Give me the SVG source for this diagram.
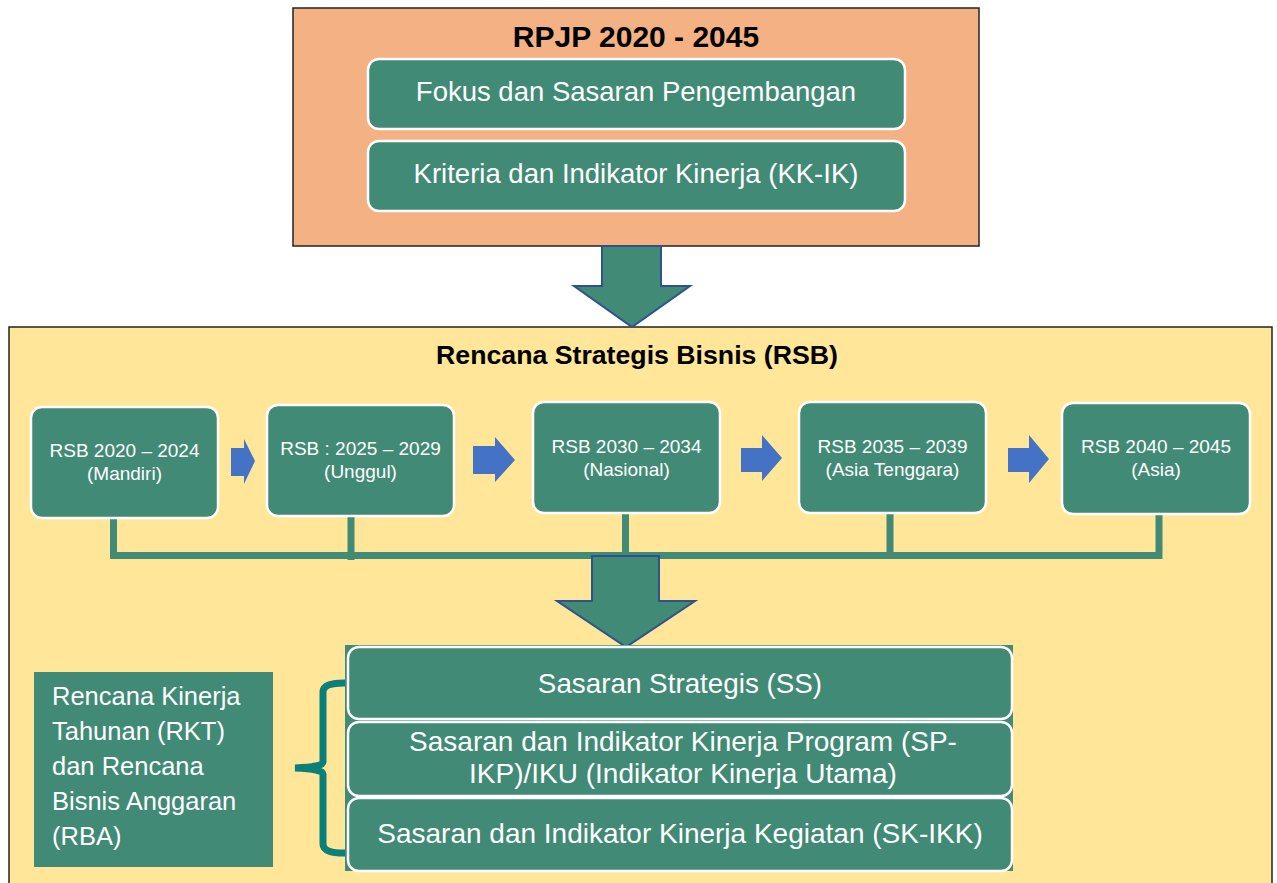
<svg xmlns="http://www.w3.org/2000/svg" width="1277" height="883" viewBox="0 0 1277 883">
<style>
.t{font-family:"Liberation Sans",Arial,sans-serif;fill:#fff;text-anchor:middle}
.b{font-family:"Liberation Sans",Arial,sans-serif;font-weight:bold;fill:#000;text-anchor:middle}
.box{fill:#418A76;stroke:#fff;stroke-width:2.5}
.big{fill:#418A76;stroke:#2F528F;stroke-width:2}
.blue{fill:#4472C4}
.ln{stroke:#418A76;stroke-width:7;fill:none}
</style>
<rect width="1277" height="883" fill="#fff"/>
<g id="rpjp">
<rect x="293" y="8" width="686" height="238" fill="#F4B183" stroke="#222" stroke-width="1.5"/>
<text class="b" x="636" y="47" font-size="30">RPJP 2020 - 2045</text>
</g>
<g id="fokus">
<rect class="box" x="368" y="59" width="537" height="70" rx="11"/>
<text class="t" x="636" y="101" font-size="27.5">Fokus dan Sasaran Pengembangan</text>
</g>
<g id="kriteria">
<rect class="box" x="368" y="141" width="537" height="70" rx="11"/>
<text class="t" x="636" y="183" font-size="27.5">Kriteria dan Indikator Kinerja (KK-IK)</text>
</g>
<g id="rsb">
<rect x="9" y="327" width="1263" height="570" fill="#FFE699" stroke="#222" stroke-width="1.5"/>
<text class="b" x="637" y="364" font-size="26.7">Rencana Strategis Bisnis (RSB)</text>
</g>
<g id="connectors">
<polygon class="big" points="602,246 661,246 661,286 690,286 632,327 574,286 602,286"/>
<path class="ln" d="M113.5,518 V559 M351,516 V560 M625.5,513 V559 M890,513 V559 M1159,514 V559 M110,555.5 H1162.5"/>
<polygon class="blue" points="231,448 244,448 244,439 255,461 244,484 244,476 231,476"/>
<polygon class="blue" points="473,446 495,446 495,437 515,460 495,482 495,474 473,474"/>
<polygon class="blue" points="741,448 762,448 762,435 782,458 762,481 762,472 741,472"/>
<polygon class="blue" points="1008,448 1029,448 1029,435 1049,459 1029,483 1029,472 1008,472"/>
<polygon class="big" points="592,556 659,556 659,601 695,601 626,647 557,601 592,601"/>
<path d="M348,683 Q323,682 323,692 V762 Q323,767 295,768 Q323,769 323,774 V844 Q323,854 348,853" fill="none" stroke="#0B7F7A" stroke-width="7"/>
</g>
<g id="rsb1">
<rect class="box" x="31" y="407" width="187" height="111" rx="11"/>
<text class="t" x="124.5" y="457" font-size="19">RSB 2020 – 2024</text>
<text class="t" x="124.5" y="480" font-size="19">(Mandiri)</text>
</g>
<g id="rsb2">
<rect class="box" x="267" y="405" width="187" height="111" rx="11"/>
<text class="t" x="360.5" y="455" font-size="19">RSB : 2025 – 2029</text>
<text class="t" x="360.5" y="478" font-size="19">(Unggul)</text>
</g>
<g id="rsb3">
<rect class="box" x="533" y="402" width="187" height="111" rx="11"/>
<text class="t" x="626.5" y="453" font-size="19">RSB 2030 – 2034</text>
<text class="t" x="626.5" y="476" font-size="19">(Nasional)</text>
</g>
<g id="rsb4">
<rect class="box" x="799" y="402" width="187" height="111" rx="11"/>
<text class="t" x="892.5" y="453" font-size="19">RSB 2035 – 2039</text>
<text class="t" x="892.5" y="476" font-size="19">(Asia Tenggara)</text>
</g>
<g id="rsb5">
<rect class="box" x="1062" y="403" width="188" height="111" rx="11"/>
<text class="t" x="1156" y="453" font-size="19">RSB 2040 – 2045</text>
<text class="t" x="1156" y="476" font-size="19">(Asia)</text>
</g>
<g id="bottom-bg">
<rect x="345" y="645" width="668" height="226" fill="#418A76"/>
</g>
<g id="ss">
<rect class="box" x="348" y="647" width="664" height="72" rx="11"/>
<text class="t" x="680" y="693" font-size="27.8">Sasaran Strategis (SS)</text>
</g>
<g id="sp">
<rect class="box" x="348" y="722" width="664" height="74" rx="11"/>
<text class="t" x="683" y="751" font-size="28">Sasaran dan Indikator Kinerja Program (SP-</text>
<text class="t" x="683" y="783" font-size="28">IKP)/IKU (Indikator Kinerja Utama)</text>
</g>
<g id="sk">
<rect class="box" x="348" y="798" width="664" height="73" rx="11"/>
<text class="t" x="680" y="843" font-size="28">Sasaran dan Indikator Kinerja Kegiatan (SK-IKK)</text>
</g>
<g id="rkt">
<rect x="34" y="672" width="239" height="195" fill="#418A76"/>
<text class="t" style="text-anchor:start" font-size="25.5">
<tspan x="52" y="705">Rencana Kinerja</tspan>
<tspan x="52" y="740">Tahunan (RKT)</tspan>
<tspan x="52" y="775">dan Rencana</tspan>
<tspan x="52" y="810">Bisnis Anggaran</tspan>
<tspan x="52" y="845">(RBA)</tspan>
</text>
</g>
</svg>
